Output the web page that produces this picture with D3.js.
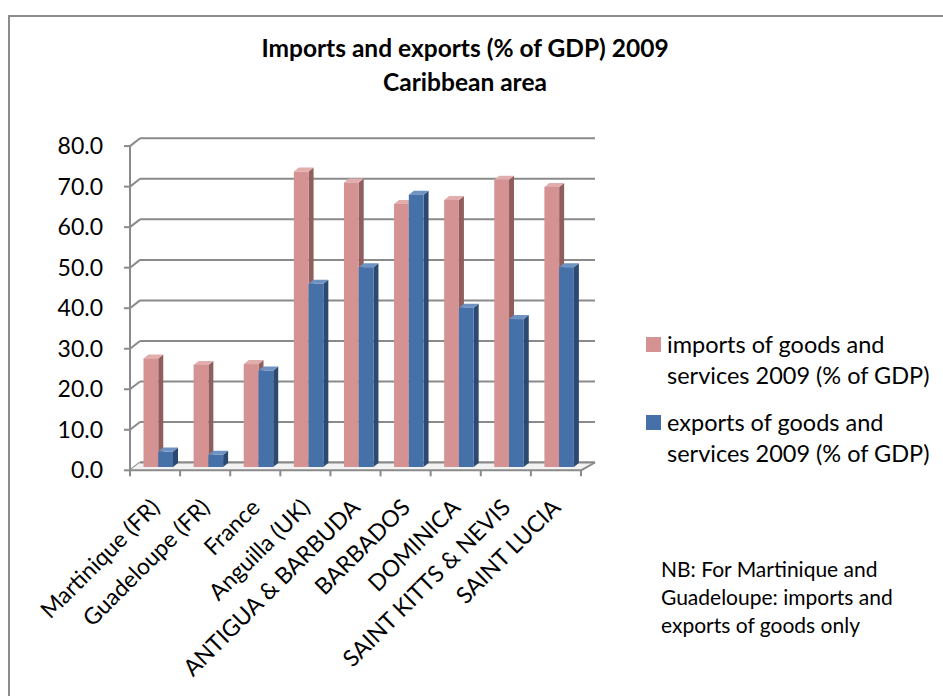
<!DOCTYPE html>
<html><head><meta charset="utf-8">
<script src="https://cdn.jsdelivr.net/npm/d3@7"></script>
<style>
html,body{margin:0;padding:0;background:#fff;}
svg{display:block;}
text{font-family:Lato,"Open Sans",sans-serif;fill:#000;}
</style></head>
<body>
<svg id="c" width="943" height="696"></svg>
<script>
const categories = ["Martinique (FR)","Guadeloupe (FR)","France","Anguilla (UK)","ANTIGUA & BARBUDA","BARBADOS","DOMINICA","SAINT KITTS & NEVIS","SAINT LUCIA"];
const imports = [26.8, 25.2, 25.4, 72.9, 70.2, 64.9, 65.9, 70.9, 69.1];
const exports = [3.8, 3.0, 23.8, 45.2, 49.3, 67.2, 39.3, 36.5, 49.3];
const seriesNames = ["imports of goods and services 2009 (% of GDP)","exports of goods and services 2009 (% of GDP)"];
const legendLines = [["imports of goods and","services 2009 (% of GDP)"],["exports of goods and","services 2009 (% of GDP)"]];
const yTicks = [0,10,20,30,40,50,60,70,80];
const titleLines = ["Imports and exports (% of GDP) 2009","Caribbean area"];
const noteLines = ["NB: For Martinique and","Guadeloupe: imports and","exports of goods only"];

const colors = [
  {front:"#D49392", side:"#8F5E5D", top:"#E2AEAD"},
  {front:"#4671A8", side:"#2C4A71", top:"#6E92C2"}
];

const svg = d3.select("#c");
svg.append("rect").attr("x",9).attr("y",16).attr("width",960).attr("height",720)
  .attr("fill","#fff").attr("stroke","#8c8c8c").attr("stroke-width",2);

svg.append("text").attr("x",465).attr("y",57).attr("text-anchor","middle")
  .style("font-weight","bold").style("font-size","24.5px").text(titleLines[0]);
svg.append("text").attr("x",465).attr("y",91).attr("text-anchor","middle")
  .style("font-weight","bold").style("font-size","24.5px").text(titleLines[1]);

const y = d3.scaleLinear().domain([0,80]).range([467,142.8]);
const x = d3.scaleBand().domain(categories).range([130,581]);
const xs = d3.scaleBand().domain([0,1]).range([13.5,43]);
const frontOff = 3.3, backDx = 10, backDy = -4.5;
const gridColor = "#8a8a8a";

const g = svg.append("g");
yTicks.forEach(v=>{
  const yf = y(v)+frontOff, yb = y(v)+backDy;
  g.append("line").attr("x1",140).attr("x2",595).attr("y1",yb).attr("y2",yb)
    .attr("stroke",gridColor).attr("stroke-width",2);
  g.append("line").attr("x1",130).attr("x2",140).attr("y1",yf).attr("y2",yb)
    .attr("stroke",gridColor).attr("stroke-width",2);
  g.append("line").attr("x1",124).attr("x2",130).attr("y1",yf).attr("y2",yf)
    .attr("stroke",gridColor).attr("stroke-width",2);
});
const y0f = y(0)+frontOff, y0b = y(0)+backDy;
g.append("path").attr("d",`M130,${y0f}L581,${y0f}L595,${y0b}L140,${y0b}Z`)
  .attr("fill","#f2f2f2").attr("stroke","none");
g.append("line").attr("x1",140).attr("x2",595).attr("y1",y0b).attr("y2",y0b).attr("stroke",gridColor).attr("stroke-width",2);
g.append("line").attr("x1",581).attr("x2",595).attr("y1",y0f).attr("y2",y0b).attr("stroke",gridColor).attr("stroke-width",2);

const dx = 5, dy = 4;
const bg = svg.append("g");
categories.forEach((c,i)=>{
  [imports[i], exports[i]].forEach((v,s)=>{
    const x0 = x(c)+xs(s), w = xs.bandwidth(), yt = y(v), yb = y(0);
    const col = colors[s];
    bg.append("path").attr("d",`M${x0+w},${yt}L${x0+w+dx},${yt-dy}L${x0+w+dx},${yb-dy}L${x0+w},${yb}Z`).attr("fill",col.side);
    bg.append("path").attr("d",`M${x0},${yt}L${x0+dx},${yt-dy}L${x0+w+dx},${yt-dy}L${x0+w},${yt}Z`).attr("fill",col.top);
    bg.append("rect").attr("x",x0).attr("y",yt).attr("width",w).attr("height",yb-yt).attr("fill",col.front);
  });
});

svg.append("line").attr("x1",130).attr("x2",130).attr("y1",y(80)+frontOff).attr("y2",y0f).attr("stroke",gridColor).attr("stroke-width",2);
svg.append("line").attr("x1",129).attr("x2",581).attr("y1",y0f).attr("y2",y0f).attr("stroke",gridColor).attr("stroke-width",2);
d3.range(categories.length+1).forEach(k=>{
  const xx = 130 + k*x.bandwidth();
  svg.append("line").attr("x1",xx).attr("x2",xx).attr("y1",y0f).attr("y2",y0f+6).attr("stroke",gridColor).attr("stroke-width",2);
});

yTicks.forEach(v=>{
  svg.append("text").attr("x",103).attr("y",y(v)+frontOff).attr("dy","0.35em")
    .attr("text-anchor","end").style("font-size","23px").text(d3.format(".1f")(v));
});

categories.forEach(c=>{
  const cx = x(c)+x.bandwidth()/2+6;
  svg.append("text").attr("transform",`translate(${cx},509) rotate(-45)`)
    .attr("text-anchor","end").style("font-size","23px").text(c);
});

legendLines.forEach((lines,s)=>{
  const base = [352,430][s];
  svg.append("rect").attr("x",646).attr("y",base-15).attr("width",15).attr("height",15).attr("fill",colors[s].front);
  lines.forEach((t,j)=>{
    svg.append("text").attr("x",667).attr("y",base+1+j*31).style("font-size","23.5px").text(t);
  });
});

noteLines.forEach((t,j)=>{
  svg.append("text").attr("x",661).attr("y",577+j*28).style("font-size","21px").text(t);
});
</script>
</body></html>
